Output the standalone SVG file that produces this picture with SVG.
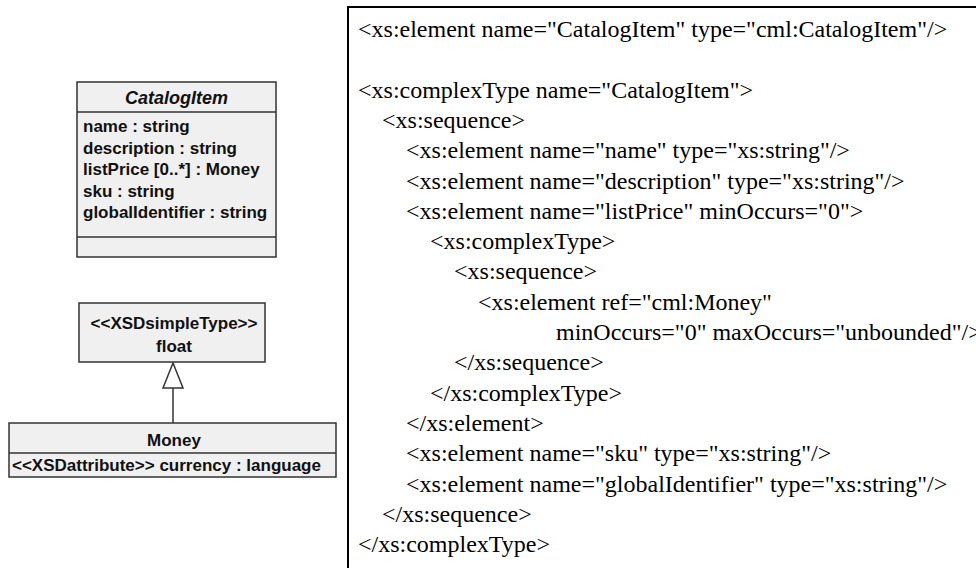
<svg xmlns="http://www.w3.org/2000/svg" width="976" height="568" viewBox="0 0 976 568">
  <style>
    .cls { fill: #f0f0f0; stroke: #333333; stroke-width: 1.5; }
    .sep { stroke: #333333; stroke-width: 1.5; fill: none; }
    .uml { font-family: "Liberation Sans", Arial, sans-serif; font-size: 17px; font-weight: bold; fill: #111111; }
    .title { font-style: italic; font-size: 18px; }
    .mid { text-anchor: middle; }
    .code { font-family: "Liberation Serif", "Times New Roman", serif; font-size: 24px; fill: #000000; }
    .frame { fill: none; stroke: #000000; stroke-width: 2; }
    .edge { stroke: #333333; stroke-width: 1.5; fill: none; }
  </style>
  <defs>
    <marker id="inherit" viewBox="0 0 27 22" refX="26" refY="11" markerWidth="27" markerHeight="22" markerUnits="userSpaceOnUse" orient="auto">
      <path d="M 1 1 L 26 11 L 1 21 Z" fill="#ffffff" stroke="#333333" stroke-width="1.5"/>
    </marker>
  </defs>
  <rect width="976" height="568" fill="#ffffff"/>

  <!-- UML class CatalogItem -->
  <g id="catalog-item">
    <rect class="cls" x="77" y="82" width="199" height="175"/>
    <line class="sep" x1="77" y1="112" x2="276" y2="112"/>
    <line class="sep" x1="77" y1="237" x2="276" y2="237"/>
    <text class="uml title mid" x="176.5" y="104">CatalogItem</text>
    <text class="uml" x="83" y="132">name : string</text>
    <text class="uml" x="83" y="153.5">description : string</text>
    <text class="uml" x="83" y="175">listPrice [0..*] : Money</text>
    <text class="uml" x="83" y="196.5">sku : string</text>
    <text class="uml" x="83" y="218">globalIdentifier : string</text>
  </g>

  <!-- simple type float -->
  <g id="float-type">
    <rect class="cls" x="79" y="303" width="186" height="59"/>
    <text class="uml mid" x="174" y="329">&lt;&lt;XSDsimpleType&gt;&gt;</text>
    <text class="uml mid" x="174" y="352">float</text>
  </g>

  <!-- UML class Money -->
  <g id="money">
    <rect class="cls" x="9" y="423" width="327" height="54"/>
    <line class="sep" x1="9" y1="453" x2="336" y2="453"/>
    <text class="uml mid" x="174" y="446">Money</text>
    <text class="uml" x="12" y="471">&lt;&lt;XSDattribute&gt;&gt; currency : language</text>
  </g>

  <!-- connectors -->
  <g id="connectors">
    <line class="edge" x1="173" y1="423" x2="173" y2="363" marker-end="url(#inherit)"/>
  </g>

  <!-- XML Schema listing -->
  <g id="xsd-listing">
    <path class="frame" d="M 348 570 V 7 H 978"/>
    <text class="code" x="358" y="37">&lt;xs:element name="CatalogItem" type="cml:CatalogItem"/&gt;</text>
    <text class="code" x="358" y="97.6">&lt;xs:complexType name="CatalogItem"&gt;</text>
    <text class="code" x="382" y="127.9">&lt;xs:sequence&gt;</text>
    <text class="code" x="406" y="158.2">&lt;xs:element name="name" type="xs:string"/&gt;</text>
    <text class="code" x="406" y="188.5">&lt;xs:element name="description" type="xs:string"/&gt;</text>
    <text class="code" x="406" y="218.8">&lt;xs:element name="listPrice" minOccurs="0"&gt;</text>
    <text class="code" x="430" y="249.1">&lt;xs:complexType&gt;</text>
    <text class="code" x="454" y="279.4">&lt;xs:sequence&gt;</text>
    <text class="code" x="478" y="309.7">&lt;xs:element ref="cml:Money"</text>
    <text class="code" x="556" y="340">minOccurs="0" maxOccurs="unbounded"/&gt;</text>
    <text class="code" x="454" y="370.3">&lt;/xs:sequence&gt;</text>
    <text class="code" x="430" y="400.6">&lt;/xs:complexType&gt;</text>
    <text class="code" x="406" y="430.9">&lt;/xs:element&gt;</text>
    <text class="code" x="406" y="461.2">&lt;xs:element name="sku" type="xs:string"/&gt;</text>
    <text class="code" x="406" y="491.5">&lt;xs:element name="globalIdentifier" type="xs:string"/&gt;</text>
    <text class="code" x="382" y="521.8">&lt;/xs:sequence&gt;</text>
    <text class="code" x="358" y="552.1">&lt;/xs:complexType&gt;</text>
  </g>
</svg>
